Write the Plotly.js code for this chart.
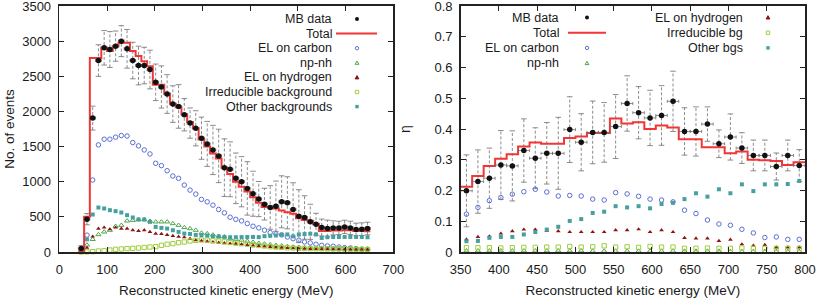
<!DOCTYPE html>
<html><head><meta charset="utf-8">
<script src="https://cdn.plot.ly/plotly-3.0.1.min.js"></script>
<style>html,body{margin:0;padding:0;background:#fff}#chart{width:822px;height:298px}</style>
</head><body><div id="chart"></div>
<script>
// ---------- Left panel: event counts, 12 MeV bins ----------
const leftBinWidth = 12;
const leftCenters = [46,58,70,82,94,106,118,130,142,154,166,178,190,202,214,226,238,250,262,274,286,298,310,322,334,346,358,370,382,394,406,418,430,442,454,466,478,490,502,514,526,538,550,562,574,586,598,610,622,634,646];
const leftData = [50,467,1905,2724,2905,2881,2929,3000,2891,2724,2653,2653,2596,2414,2348,2248,2105,2071,1953,1834,1760,1619,1538,1452,1367,1200,1177,1048,1000,905,829,753,681,634,652,714,700,605,510,491,429,396,348,334,343,343,357,343,320,325,334];
const leftErr = [40,80,170,225,245,255,215,220,275,260,275,260,275,260,300,275,260,310,230,215,250,300,320,350,380,410,390,360,357,380,320,250,226,310,357,370,370,380,376,309,250,155,120,120,100,95,95,95,90,90,90];
const leftTotal = [8,500,2760,2760,2905,2860,2929,2976,2976,2860,2790,2714,2643,2380,2380,2250,2110,2060,1960,1850,1760,1600,1500,1400,1330,1200,1110,1000,930,860,780,700,640,645,620,590,565,545,480,455,445,400,300,300,305,305,310,310,300,300,295];
const leftCarbon = [10,240,1024,1524,1605,1605,1634,1657,1650,1557,1510,1452,1395,1262,1229,1157,1081,1048,952,881,824,748,714,667,605,557,495,465,443,405,367,343,310,276,257,243,214,190,167,143,129,110,95,86,81,71,62,57,48,38,33];
const leftNpnh = [5,100,180,248,286,310,367,381,443,452,462,462,438,429,429,429,405,381,348,333,310,271,262,243,224,216,190,181,170,155,140,125,115,105,95,88,80,71,68,64,60,57,55,52,50,50,48,48,45,45,45];
const leftHydrogen = [5,60,220,333,348,324,348,333,333,310,300,310,286,262,257,243,229,219,210,190,167,160,150,140,132,125,120,119,110,100,92,85,78,72,66,62,57,53,50,48,45,43,41,40,38,38,37,36,35,35,34];
const leftIrreducible = [0,2,5,14,20,28,38,43,48,52,57,64,71,76,95,110,119,133,143,157,165,170,170,165,155,145,135,125,118,110,100,92,85,75,70,65,60,57,52,50,48,47,46,45,44,42,41,40,39,38,37];
const leftOther = [5,180,533,633,619,595,581,562,524,491,462,462,429,357,343,333,310,286,262,257,243,240,235,225,220,215,210,210,212,214,214,212,225,230,235,245,250,222,250,255,260,250,200,210,214,214,214,214,214,214,210];

// ---------- Right panel: eta, 15 MeV bins ----------
const rightBinWidth = 15;
const rightCenters = [357.5,372.5,387.5,402.5,417.5,432.5,447.5,462.5,477.5,492.5,507.5,522.5,537.5,552.5,567.5,582.5,597.5,612.5,627.5,642.5,657.5,672.5,687.5,702.5,717.5,732.5,747.5,762.5,777.5,792.5];
const rightData = [0.199,0.229,0.240,0.283,0.280,0.330,0.305,0.321,0.321,0.398,0.357,0.389,0.389,0.408,0.483,0.453,0.436,0.444,0.490,0.392,0.392,0.416,0.352,0.374,0.338,0.314,0.314,0.278,0.314,0.281];
const rightErr = [0.117,0.103,0.098,0.112,0.114,0.103,0.099,0.100,0.117,0.107,0.093,0.102,0.097,0.104,0.090,0.085,0.090,0.097,0.098,0.077,0.080,0.056,0.045,0.075,0.050,0.050,0.050,0.044,0.050,0.052];
const rightTotal = [0.212,0.247,0.280,0.303,0.318,0.343,0.356,0.352,0.352,0.371,0.376,0.387,0.387,0.434,0.418,0.422,0.400,0.411,0.405,0.367,0.367,0.341,0.341,0.321,0.327,0.300,0.298,0.296,0.283,0.292];
const rightCarbon = [0.123,0.145,0.167,0.177,0.188,0.196,0.204,0.195,0.182,0.184,0.182,0.172,0.169,0.193,0.189,0.181,0.172,0.169,0.163,0.136,0.125,0.104,0.091,0.087,0.074,0.062,0.047,0.049,0.041,0.041];
const rightNpnh = [0.004,0.004,0.004,0.004,0.004,0.004,0.004,0.004,0.004,0.004,0.004,0.003,0.003,0.003,0.003,0.003,0.003,0.003,0.003,0.003,0.003,0.003,0.003,0.002,0.002,0.002,0.002,0.002,0.002,0.002];
const rightHydrogen = [0.041,0.049,0.051,0.060,0.068,0.073,0.073,0.069,0.068,0.065,0.065,0.065,0.065,0.071,0.071,0.074,0.065,0.071,0.065,0.046,0.044,0.044,0.036,0.040,0.025,0.021,0.023,0.015,0.015,0.015];
const rightIrreducible = [0.014,0.014,0.014,0.013,0.014,0.015,0.015,0.016,0.016,0.018,0.016,0.017,0.020,0.016,0.017,0.015,0.018,0.016,0.016,0.012,0.012,0.013,0.012,0.012,0.013,0.012,0.012,0.012,0.012,0.012];
const rightOther = [0.035,0.036,0.046,0.049,0.049,0.057,0.065,0.073,0.082,0.101,0.107,0.127,0.131,0.149,0.145,0.149,0.142,0.156,0.160,0.172,0.191,0.180,0.204,0.191,0.220,0.198,0.220,0.220,0.221,0.231];

// ---------- labels ----------
const xTitle = 'Reconstructed kinetic energy (MeV)';
const leftYTitle = 'No. of events';
const rightYTitle = 'η';
const leftLegend = ['MB data','Total','EL on carbon','np-nh','EL on hydrogen','Irreducible background','Other backgrounds'];
const rightLegendA = ['MB data','Total','EL on carbon','np-nh'];
const rightLegendB = ['EL on hydrogen','Irreducible bg','Other bgs'];

// ---------- styles ----------
const FONT = 'Liberation Sans, Arial, sans-serif';
const TXT = '#1a1a1a';
const ERRC = '#6f6f6f';
const RED = '#f23535';
const sty = {
  data: {symbol:'circle', size:5.5, color:'#111'},
  carbon: {symbol:'circle-open', size:4.5, color:'#5b6fd2', line:{width:1}},
  npnh: {symbol:'triangle-up-open', size:4.5, color:'#4ea54e', line:{width:1}},
  hydrogen: {symbol:'triangle-up', size:4.2, color:'#8e1414'},
  irreducible: {symbol:'square-open', size:4.3, color:'#9fce3a', line:{width:1}},
  other: {symbol:'square', size:4, color:'#46a0a0'}
};

function edgesOf(c, w){ const e = c.map(v=>v-w/2); e.push(c[c.length-1]+w/2); return e; }
function stepY(v){ return v.concat([v[v.length-1]]); }
function errSeg(xs, ys, es){ const x=[], y=[]; xs.forEach((xv,i)=>{ x.push(xv,xv,null); y.push(ys[i]-es[i], ys[i]+es[i], null); }); return {x,y}; }

function panelTraces(c, w, data, err, total, series, xa, ya){
  const seg = errSeg(c, data, err);
  const half = c.map(()=>w/2);
  const tr = [];
  tr.push({x:seg.x, y:seg.y, xaxis:xa, yaxis:ya, mode:'lines', line:{color:ERRC, width:0.8, dash:'3px,2px'}, hoverinfo:'skip', showlegend:false});
  tr.push({x:c.concat(c), y:data.map((v,i)=>v-err[i]).concat(data.map((v,i)=>v+err[i])), xaxis:xa, yaxis:ya, mode:'markers',
    marker:{symbol:'line-ew', size:4, line:{color:ERRC, width:0.8}}, hoverinfo:'skip', showlegend:false});
  series.forEach(s=>{
    tr.push({x:c, y:s.y, xaxis:xa, yaxis:ya, mode:'markers', name:s.name, marker:s.marker, showlegend:false, cliponaxis:false});
  });
  tr.push({x:edgesOf(c,w), y:stepY(total), xaxis:xa, yaxis:ya, mode:'lines', line:{shape:'hv', color:RED, width:2}, name:'Total', showlegend:false});
  tr.push({x:c, y:data, xaxis:xa, yaxis:ya, mode:'markers', name:'MB data', marker:sty.data, showlegend:false,
    error_x:{type:'data', array:half, color:ERRC, thickness:0.8, width:1.5}});
  return tr;
}

const traces = [].concat(
  panelTraces(leftCenters, leftBinWidth, leftData, leftErr, leftTotal, [
    {name:'EL on carbon', y:leftCarbon, marker:sty.carbon},
    {name:'np-nh', y:leftNpnh, marker:sty.npnh},
    {name:'EL on hydrogen', y:leftHydrogen, marker:sty.hydrogen},
    {name:'Irreducible background', y:leftIrreducible, marker:sty.irreducible},
    {name:'Other backgrounds', y:leftOther, marker:sty.other}
  ], 'x', 'y'),
  panelTraces(rightCenters, rightBinWidth, rightData, rightErr, rightTotal, [
    {name:'EL on carbon', y:rightCarbon, marker:sty.carbon},
    {name:'np-nh', y:rightNpnh, marker:sty.npnh},
    {name:'EL on hydrogen', y:rightHydrogen, marker:sty.hydrogen},
    {name:'Irreducible bg', y:rightIrreducible, marker:sty.irreducible},
    {name:'Other bgs', y:rightOther, marker:sty.other}
  ], 'x2', 'y2')
);

// ---------- layout ----------
const W = 822, H = 298, MT = 6, MBOT = 46, PH = H - MT - MBOT;
const px = p => p / W;
const py = p => 1 - (p - MT) / PH;

function axisBase(isX){
  return {ticks:'inside', ticklen:5, tickwidth:1, tickcolor:'#222', showline:true, linewidth:1.6, linecolor:'#222',
    mirror:'allticks', showgrid:false, zeroline:false, exponentformat:'none', ticklabelstandoff: isX ? 5 : 4,
    ticklabeloverflow:'allow', tickfont:{family:FONT, size:13, color:TXT}};
}
const xaxis = Object.assign(axisBase(true), {domain:[px(59.3), px(393.3)], range:[0,700], dtick:100, tick0:0, anchor:'y',
  title:{text:xTitle, font:{family:FONT, size:13.5, color:TXT}, standoff:9}});
const yaxis = Object.assign(axisBase(false), {domain:[0,1], range:[0,3500], dtick:500, tick0:0, anchor:'x',
  title:{text:leftYTitle, font:{family:FONT, size:13.5, color:TXT}, standoff:4}});
const xaxis2 = Object.assign(axisBase(true), {domain:[px(460.7), px(805)], range:[350,800], dtick:50, tick0:350, anchor:'y2',
  title:{text:xTitle, font:{family:FONT, size:13.5, color:TXT}, standoff:9}});
const yaxis2 = Object.assign(axisBase(false), {domain:[0,1], range:[0,0.8], dtick:0.1, tick0:0, anchor:'x2',
  title:{text:rightYTitle, font:{family:FONT, size:14, color:TXT}, standoff:20}});

// legend (gnuplot style: right-aligned text, key to the right)
const annotations = [];
const shapes = [];
function keyShape(kind, cx, cy){
  const m = sty[kind];
  const base = {xref:'paper', yref:'paper', layer:'above'};
  if (kind === 'data') shapes.push(Object.assign({type:'circle', x0:px(cx-2), x1:px(cx+2), y0:py(cy+2), y1:py(cy-2), fillcolor:m.color, line:{width:0}}, base));
  if (kind === 'carbon') shapes.push(Object.assign({type:'circle', x0:px(cx-1.7), x1:px(cx+1.7), y0:py(cy+1.7), y1:py(cy-1.7), line:{color:m.color, width:1}}, base));
  if (kind === 'npnh' || kind === 'hydrogen') {
    const p = `M${px(cx-1.9)},${py(cy+1.5)} L${px(cx+1.9)},${py(cy+1.5)} L${px(cx)},${py(cy-1.8)} Z`;
    shapes.push(Object.assign({type:'path', path:p, line:{color:m.color, width:1}, fillcolor: kind==='hydrogen'? m.color : 'rgba(0,0,0,0)'}, base));
  }
  if (kind === 'irreducible') shapes.push(Object.assign({type:'rect', x0:px(cx-1.7), x1:px(cx+1.7), y0:py(cy+1.7), y1:py(cy-1.7), line:{color:m.color, width:1}}, base));
  if (kind === 'other') shapes.push(Object.assign({type:'rect', x0:px(cx-1.7), x1:px(cx+1.7), y0:py(cy+1.7), y1:py(cy-1.7), fillcolor:m.color, line:{width:0}}, base));
}
function legendBlock(labels, kinds, textRight, keyX, lineX0, lineX1, y0, dy){
  labels.forEach((t,i)=>{
    const y = y0 + dy*i;
    annotations.push({xref:'paper', yref:'paper', x:px(textRight), y:py(y), xanchor:'right', yanchor:'middle', text:t, showarrow:false,
      font:{family:FONT, size:12.5, color:TXT}});
    if (kinds[i] === 'total') {
      shapes.push({type:'line', xref:'paper', yref:'paper', x0:px(lineX0), x1:px(lineX1), y0:py(y), y1:py(y), line:{color:RED, width:2}, layer:'above'});
    } else keyShape(kinds[i], keyX, y);
  });
}
legendBlock(leftLegend, ['data','total','carbon','npnh','hydrogen','irreducible','other'], 334, 357, 336, 377, 19, 14.6);
legendBlock(rightLegendA, ['data','total','carbon','npnh'], 561, 587, 568, 606, 17.5, 15.2);
legendBlock(rightLegendB, ['hydrogen','irreducible','other'], 745, 768, 0, 0, 17.5, 15.2);

const layout = {width:W, height:H, margin:{l:0, r:0, t:MT, b:MBOT}, paper_bgcolor:'#fff', plot_bgcolor:'#fff',
  showlegend:false, xaxis, yaxis, xaxis2, yaxis2, annotations, shapes, font:{family:FONT, color:TXT}};

Plotly.newPlot('chart', traces, layout, {staticPlot:true, displayModeBar:false});
</script></body></html>
